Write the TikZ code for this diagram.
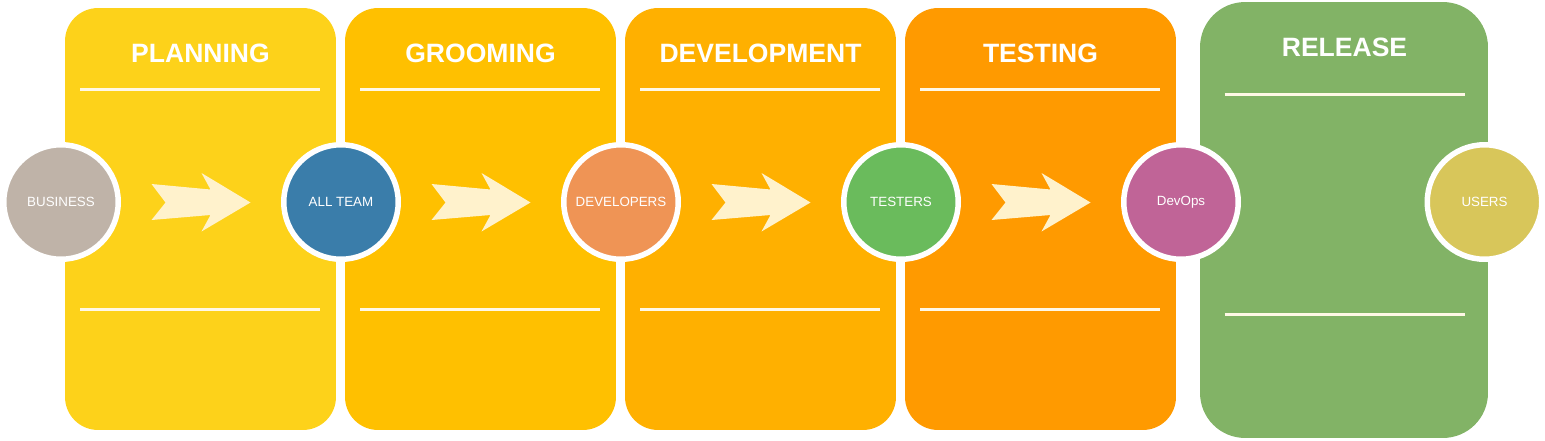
\documentclass[tikz,border=0pt]{standalone}
\usepackage{fontspec}
\setmainfont{Liberation Sans}
\usetikzlibrary{calc}
\definecolor{cPlan}{HTML}{FDD21A}
\definecolor{cGroom}{HTML}{FFC000}
\definecolor{cDev}{HTML}{FFB000}
\definecolor{cTest}{HTML}{FF9A00}
\definecolor{cRel}{HTML}{82B366}
\definecolor{cFleche}{HTML}{FFF2CC}
\definecolor{cTrait}{HTML}{FFF8E6}
\definecolor{cBus}{HTML}{BFB3A8}
\definecolor{cTeam}{HTML}{3A7DAA}
\definecolor{cDevs}{HTML}{EF9455}
\definecolor{cTesters}{HTML}{6ABB5C}
\definecolor{cOps}{HTML}{C06497}
\definecolor{cUsers}{HTML}{D8C65A}
\tikzset{
	phase/.style={rectangle, inner sep=0pt, minimum width=5.42cm, minimum height=8.44cm, rounded corners=0.66cm},
	titre/.style={anchor=base, text=white, font=\fontsize{15.1}{18}\selectfont\bfseries},
	trait/.style={draw=cTrait, line width=0.05cm},
	acteur/.style={circle, draw=white, line width=0.11cm, inner sep=0pt, minimum size=2.29cm, text=white, font=\fontsize{7.6}{9}\selectfont},
	fleche/.style={fill=cFleche}
}
\begin{document}
\begin{tikzpicture}[x=0.02cm, y=-0.02cm]
	\useasboundingbox (0,0) rectangle (1545,440);
	% les colonnes
	\node[phase, fill=cPlan] (planning) at (200.5,219) {};
	\node[phase, fill=cGroom] (grooming) at (480.5,219) {};
	\node[phase, fill=cDev] (development) at (760.5,219) {};
	\node[phase, fill=cTest] (testing) at (1040.5,219) {};
	\node[phase, fill=cRel, minimum width=5.76cm, minimum height=8.72cm, rounded corners=0.9cm] (release) at (1344,220) {};
	\node[titre] (tPlan) at (200.5,62) {PLANNING};
	\node[titre] (tGroom) at (480.5,62) {GROOMING};
	\node[titre] (tDev) at (760.5,62) {DEVELOPMENT};
	\node[titre] (tTest) at (1040.5,62) {TESTING};
	\node[titre] (tRel) at (1344.5,56) {RELEASE};
	% traits
	\foreach \x in {80,360,640,920} {
		\draw[trait] (\x,89.5)--++(240,0);
		\draw[trait] (\x,309.5)--++(240,0);
	}
	\draw[trait] (1224.5,94.5)--++(240,0);
	\draw[trait] (1224.5,314.5)--++(240,0);
	% acteurs
	\node[acteur, fill=cBus] (business) at (61,202) {BUSINESS};
	\node[acteur, fill=cTeam] (allteam) at (341,202) {ALL TEAM};
	\node[acteur, fill=cDevs] (developers) at (621,202) {DEVELOPERS};
	\node[acteur, fill=cTesters] (testers) at (901,202) {TESTERS};
	\node[acteur, fill=cOps] (devops) at (1181,202) {DevOps};
	\node[acteur, fill=cUsers] (users) at (1484.5,202) {USERS};
	% fleches
	\foreach \a/\b in {business/allteam, allteam/developers, developers/testers, testers/devops}
		\fill[fleche, shift={($(\a)!0.5!(\b)$)}] (-49.5,-18)--(-35.5,0.5)--(-49.5,18)--(9.5,13)--(0.5,29.5)--(49.5,0.5)--(0.5,-29)--(9.5,-12.5)--cycle;
\end{tikzpicture}
\end{document}
